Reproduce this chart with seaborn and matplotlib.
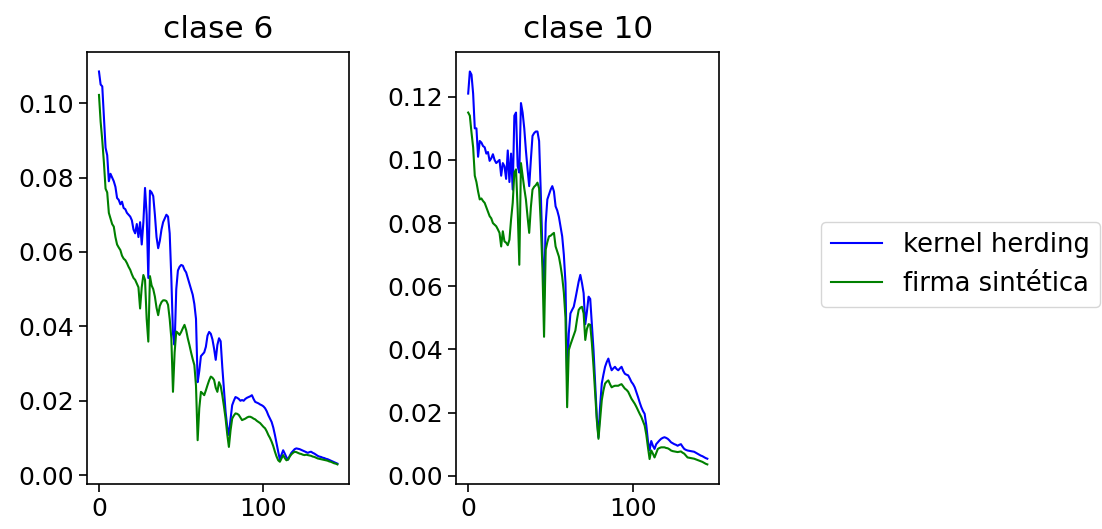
import numpy as np
import pandas as pd
import seaborn as sns
import matplotlib.pyplot as plt

# valores (146 puntos por serie)
kh_clase6 = [
    .1085, .1050, .1045, .0960, .0880, .0860, .0790, .0810, .0800, .0790,
    .0775, .0745, .0740, .0728, .0735, .0718, .0715, .0705, .0700, .0695,
    .0685, .0660, .0650, .0675, .0640, .0680, .0620, .0680, .0772, .0700,
    .0530, .0765, .0760, .0750, .0700, .0640, .0610, .0630, .0660, .0680,
    .0690, .0700, .0695, .0650, .0530, .0380, .0350, .0500, .0550, .0560,
    .0565, .0563, .0552, .0545, .0530, .0515, .0500, .0485, .0460, .0420,
    .0250, .0280, .0320, .0325, .0330, .0345, .0375, .0385, .0380, .0365,
    .0340, .0310, .0350, .0368, .0360, .0290, .0230, .0170, .0130, .0108,
    .0150, .0188, .0200, .0210, .0208, .0205, .0200, .0202, .0200, .0205,
    .0208, .0210, .0212, .0215, .0205, .0197, .0195, .0193, .0190, .0188,
    .0185, .0180, .0172, .0161, .0152, .0143, .0128, .0108, .0085, .0063,
    .0042, .0055, .0067, .0058, .0048, .0042, .0052, .0060, .0065, .0070,
    .0072, .0071, .0070, .0068, .0066, .0064, .0062, .0060, .0062, .0063,
    .0060, .0058, .0055, .0052, .0050, .0049, .0047, .0046, .0044, .0043,
    .0041, .0039, .0037, .0035, .0033, .0031,
]
fs_clase6 = [
    .1022, .0950, .0900, .0840, .0770, .0760, .0705, .0690, .0675, .0668,
    .0640, .0620, .0612, .0605, .0590, .0582, .0578, .0570, .0560, .0552,
    .0540, .0530, .0525, .0515, .0505, .0448, .0505, .0538, .0525, .0420,
    .0359, .0535, .0510, .0500, .0480, .0450, .0430, .0455, .0465, .0470,
    .0470, .0468, .0458, .0420, .0368, .0224, .0330, .0386, .0382, .0377,
    .0385, .0395, .0404, .0390, .0368, .0350, .0330, .0312, .0296, .0240,
    .0094, .0180, .0224, .0220, .0215, .0228, .0242, .0255, .0265, .0262,
    .0256, .0235, .0224, .0250, .0240, .0215, .0185, .0152, .0110, .0076,
    .0120, .0152, .0160, .0166, .0165, .0162, .0155, .0148, .0150, .0152,
    .0155, .0157, .0157, .0155, .0152, .0150, .0146, .0143, .0140, .0135,
    .0130, .0126, .0118, .0108, .0100, .0090, .0078, .0063, .0050, .0040,
    .0036, .0045, .0054, .0046, .0040, .0042, .0050, .0056, .0060, .0063,
    .0062, .0060, .0058, .0057, .0055, .0054, .0055, .0054, .0053, .0052,
    .0050, .0049, .0047, .0045, .0044, .0043, .0042, .0041, .0040, .0039,
    .0037, .0036, .0034, .0032, .0031, .0029,
]
kh_clase10 = [
    .1210, .1280, .1270, .1210, .1100, .1100, .1010, .1060, .1055, .1044,
    .1040, .1020, .1025, .0997, .1005, .1018, .1000, .0990, .0995, .1000,
    .0950, .0990, .0980, .0940, .1030, .0930, .1020, .0906, .1140, .1150,
    .0980, .0960, .1180, .1150, .1100, .1030, .0970, .0917, .1000, .1076,
    .1085, .1090, .1090, .1060, .0900, .0716, .0560, .0800, .0875, .0890,
    .0906, .0917, .0900, .0853, .0840, .0820, .0790, .0758, .0700, .0610,
    .0300, .0450, .0514, .0525, .0535, .0560, .0588, .0615, .0636, .0610,
    .0578, .0480, .0520, .0567, .0560, .0480, .0398, .0290, .0186, .0122,
    .0220, .0292, .0320, .0345, .0360, .0371, .0350, .0334, .0340, .0345,
    .0338, .0334, .0340, .0345, .0332, .0323, .0320, .0318, .0308, .0297,
    .0290, .0280, .0265, .0249, .0232, .0217, .0205, .0196, .0160, .0110,
    .0080, .0110, .0095, .0085, .0100, .0106, .0112, .0117, .0120, .0122,
    .0120, .0117, .0112, .0106, .0103, .0100, .0098, .0095, .0098, .0100,
    .0092, .0085, .0082, .0080, .0079, .0078, .0077, .0076, .0073, .0070,
    .0067, .0064, .0062, .0059, .0056, .0054,
]
fs_clase10 = [
    .1150, .1140, .1087, .1040, .0950, .0930, .0900, .0875, .0878, .0870,
    .0864, .0850, .0835, .0822, .0815, .0800, .0795, .0790, .0780, .0769,
    .0726, .0774, .0742, .0738, .0730, .0747, .0811, .0864, .0960, .0970,
    .0843, .0668, .0990, .0950, .0910, .0875, .0820, .0769, .0850, .0906,
    .0915, .0920, .0928, .0910, .0800, .0660, .0440, .0716, .0740, .0758,
    .0760, .0765, .0769, .0726, .0710, .0694, .0665, .0630, .0580, .0500,
    .0217, .0398, .0415, .0430, .0445, .0460, .0495, .0525, .0532, .0535,
    .0514, .0430, .0465, .0480, .0478, .0420, .0345, .0260, .0175, .0117,
    .0180, .0239, .0270, .0292, .0298, .0302, .0290, .0280, .0283, .0285,
    .0285, .0285, .0288, .0290, .0283, .0276, .0272, .0266, .0255, .0244,
    .0236, .0228, .0218, .0207, .0196, .0186, .0172, .0159, .0130, .0090,
    .0053, .0080, .0070, .0058, .0072, .0085, .0088, .0090, .0090, .0090,
    .0088, .0087, .0084, .0080, .0078, .0077, .0076, .0075, .0076, .0077,
    .0073, .0070, .0064, .0058, .0057, .0056, .0055, .0054, .0052, .0050,
    .0048, .0046, .0044, .0041, .0038, .0036,
]

clases = ["clase 6", "clase 10"]
series_labels = ["kernel herding", "firma sintética"]
colores = ["blue", "green"]

plt.rcParams["font.size"] = 18

fig = plt.figure(figsize=(11.02, 5.29), dpi=100)
ax1 = fig.add_axes([0.079, 0.085, 0.238, 0.817])
ax2 = fig.add_axes([0.414, 0.085, 0.2387, 0.817])

datos = [(kh_clase6, fs_clase6), (kh_clase10, fs_clase10)]
for ax, titulo, (kh, fs) in zip([ax1, ax2], clases, datos):
    df = pd.DataFrame({
        "x": np.arange(len(kh)).tolist() * 2,
        "valor": kh + fs,
        "serie": [series_labels[0]] * len(kh) + [series_labels[1]] * len(fs),
    })
    sns.lineplot(data=df, x="x", y="valor", hue="serie", palette=colores,
                 linewidth=1.5, ax=ax, legend=False)
    ax.set_title(titulo, fontsize=22.5, pad=10)
    ax.set_xlabel("")
    ax.set_ylabel("")
    ax.set_xticks([0, 100])
    for s in ax.spines.values():
        s.set_linewidth(1.2)
    ax.tick_params(width=1.2, length=6)

fig.legend(ax1.get_lines()[:2], series_labels, loc="center left",
           bbox_to_anchor=(0.733, 0.50), fontsize=18.5)

fig.savefig("out.png", dpi=100)
